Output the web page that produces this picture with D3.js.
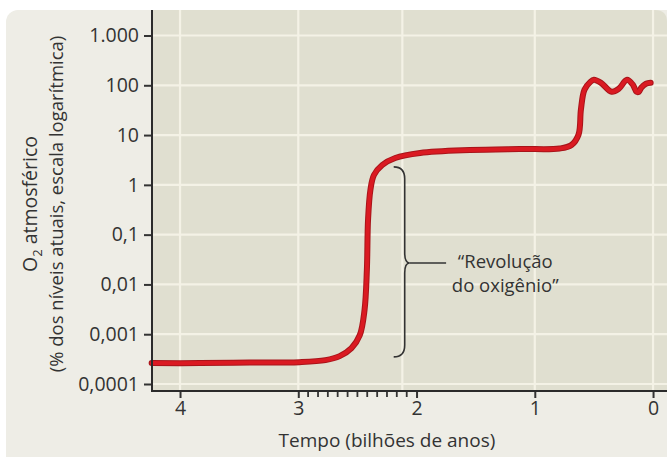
<!DOCTYPE html>
<html><head><meta charset="utf-8">
<script src="https://cdn.jsdelivr.net/npm/d3@7"></script>
<style>body{margin:0;background:#fff}svg{display:block}text{font-family:"Open Sans",sans-serif;fill:#333}</style>
</head><body><svg id="c" width="667" height="457"></svg>
<script>
// Time (billions of years ago) and atmospheric O2 (% of present level)
const timeGa = [4.24,3.83,3.41,2.99,2.77,2.65,2.55,2.48,2.44,2.42,2.41,2.39,2.36,2.29,2.18,1.97,1.55,1.13,0.79,0.69,0.63,0.61,0.58,0.53,0.50,0.44,0.35,0.29,0.22,0.17,0.14,0.12,0.10,0.06,0.02];
const o2 = [0.000263,0.000263,0.000269,0.000275,0.000302,0.000363,0.000525,0.000955,0.00302,0.0195,0.2,0.794,1.58,2.51,3.47,4.37,5.01,5.25,5.37,6.31,10.2,32.4,81.3,117,129,112,74,85,129,102,74,74,89,107,112];
const yTicks = [1000,100,10,1,0.1,0.01,0.001,0.0001];
const yTickLabels = ["1.000","100","10","1","0,1","0,01","0,001","0,0001"];
const xTicks = [4,3,2,1,0];
const xTickLabels = ["4","3","2","1","0"];
const xMinorTicks = [2.917,2.833,2.75,2.667,2.583,2.5,2.417,2.333,2.25,2.167,2.083];
const xGrid = [4,3,2.12,1,0];
const braceTime = 2.1, braceTop = 2.3, braceBottom = 0.00035, braceMid = 0.027;
const labelLines = ["\u201cRevolução","do oxigênio\u201d"];

(function(){
const svg = d3.select("#c");
const W = 667, H = 457;
const pL = 152, pT = 10, pB = 391;
const x = d3.scaleLinear().domain([4.237,-0.118]).range([pL, W]);
const y = d3.scaleLog().domain([0.0001,1000]).range([384, 35.5]);

// outer panel
svg.append("rect").attr("x",6).attr("y",10).attr("width",W+20).attr("height",H-10+20).attr("rx",12).attr("fill","#eeede6");
// plot background
svg.append("path").attr("d",`M${pL},${pT}H${W-12}Q${W},${pT} ${W},${pT+12}V${pB}H${pL}Z`).attr("fill","#e0dfd0");

const g = svg.append("g");
g.selectAll("line.hg").data(yTicks).join("line").attr("x1",pL).attr("x2",W)
  .attr("y1",d=>y(d)).attr("y2",d=>y(d)).attr("stroke","#f4f2e6").attr("stroke-width",2.2);
g.selectAll("line.vg").data(xGrid).join("line").attr("y1",pT).attr("y2",pB)
  .attr("x1",d=>x(d)).attr("x2",d=>x(d)).attr("stroke","#f4f2e6").attr("stroke-width",2.2);

// curve
const line = d3.line().x((d,i)=>x(timeGa[i])).y((d,i)=>y(o2[i])).curve(d3.curveCatmullRom.alpha(0.5));
g.append("path").attr("d",line(o2)).attr("fill","none").attr("stroke","#a8141a").attr("stroke-width",6).attr("stroke-linecap","round");
g.append("path").attr("d",line(o2)).attr("fill","none").attr("stroke","#da1a22").attr("stroke-width",4).attr("stroke-linecap","round");

// axes
const yAxis = d3.axisLeft(y).tickValues(yTicks).tickFormat((d,i)=>yTickLabels[i]).tickSize(8).tickPadding(5);
const ya = svg.append("g").attr("transform",`translate(${pL},0)`).call(yAxis);
ya.select(".domain").remove();
ya.selectAll(".tick line").attr("stroke","#333").attr("stroke-width",2);
ya.selectAll(".tick text").style("font-size","19.5px").attr("fill","#333");
svg.append("line").attr("x1",pL).attr("x2",pL).attr("y1",pT).attr("y2",pB+1).attr("stroke","#2b2b2b").attr("stroke-width",2);

const xAxis = d3.axisBottom(x).tickValues(xTicks).tickFormat((d,i)=>xTickLabels[i]).tickSize(7).tickPadding(3);
const xa = svg.append("g").attr("transform",`translate(0,${pB})`).call(xAxis);
xa.select(".domain").remove();
xa.selectAll(".tick line").attr("stroke","#333").attr("stroke-width",2);
xa.selectAll(".tick text").style("font-size","19.5px").attr("fill","#333");
svg.append("g").attr("transform",`translate(0,${pB})`).selectAll("line").data(xMinorTicks).join("line")
  .attr("x1",d=>x(d)).attr("x2",d=>x(d)).attr("y1",0).attr("y2",6).attr("stroke","#333").attr("stroke-width",1.8);
svg.append("line").attr("x1",pL-1).attr("x2",W).attr("y1",pB).attr("y2",pB).attr("stroke","#2b2b2b").attr("stroke-width",2);

// axis titles
svg.append("text").attr("x",x(2.25)).attr("y",447).attr("text-anchor","middle").style("font-size","19px").text("Tempo (bilhões de anos)");
const yt = svg.append("text").attr("transform","translate(37,204) rotate(-90)").attr("text-anchor","middle").style("font-size","19.5px");
yt.append("tspan").text("O");
yt.append("tspan").text("2").style("font-size","13px").attr("dy",5);
yt.append("tspan").text(" atmosférico").attr("dy",-5);
svg.append("text").attr("transform","translate(63,204) rotate(-90)").attr("text-anchor","middle").style("font-size","18.5px")
  .text("(% dos níveis atuais, escala logarítmica)");

// brace annotation
const bx = x(braceTime), yTop = y(braceTop), yBot = y(braceBottom), yMid = y(braceMid);
const bh = 11;
const bp = d3.path();
bp.moveTo(bx-bh, yTop);
bp.quadraticCurveTo(bx, yTop, bx, yTop+12);
bp.lineTo(bx, yMid-10);
bp.quadraticCurveTo(bx, yMid, bx+5, yMid);
bp.quadraticCurveTo(bx, yMid, bx, yMid+10);
bp.lineTo(bx, yBot-12);
bp.quadraticCurveTo(bx, yBot, bx-bh, yBot);
svg.append("path").attr("d",bp.toString()).attr("fill","none").attr("stroke","#333").attr("stroke-width",1.6);
svg.append("line").attr("x1",bx+5).attr("x2",x(1.75)).attr("y1",yMid).attr("y2",yMid).attr("stroke","#333").attr("stroke-width",1.6);
const lab = svg.append("text").attr("text-anchor","middle").style("font-size","18.5px");
lab.selectAll("tspan").data(labelLines).join("tspan")
  .attr("x",x(1.25)).attr("y",(d,i)=>yMid+5+i*24.5).text(d=>d);
})();
</script></body></html>
